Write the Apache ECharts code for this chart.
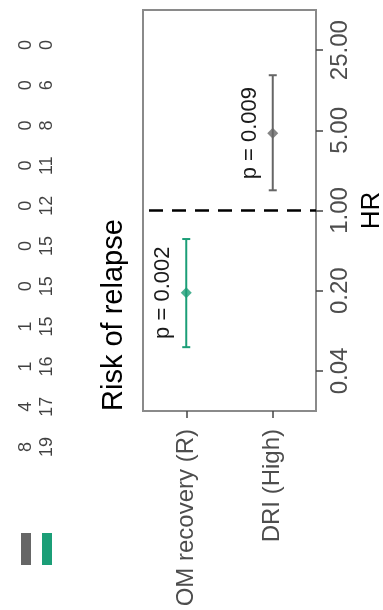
<!DOCTYPE html>
<html>
<head>
<meta charset="utf-8">
<script src="https://cdn.jsdelivr.net/npm/echarts@6/dist/echarts.min.js"></script>
<style>
  html, body { margin: 0; padding: 0; background: #ffffff; }
  #chart { width: 383px; height: 610px; }
</style>
</head>
<body>
<div id="chart"></div>
<script>
// Hazard ratios (Cox model) for relapse, one row per covariate
const categories = ['OM recovery (R)', 'DRI (High)'];
const hrPoint = [0.192, 4.72];
const hrLower = [0.0644, 1.50];
const hrUpper = [0.564, 15.1];
const pLabels = ['p = 0.002', 'p = 0.009'];
const hrTicks = [0.04, 0.20, 1.00, 5.00, 25.00];

// Numbers at risk under the survival curves, per stratum and time column
const riskStrata = ['grey', 'teal'];
const riskGrey = [8, 4, 1, 1, 0, 0, 0, 0, 0, 0, 0];
const riskTeal = [19, 17, 16, 15, 15, 15, 12, 11, 8, 6, 0];
const riskColumns = riskTeal.map((_, i) => 't' + i);

const FONT = "'Liberation Sans', Arial, Helvetica, sans-serif";
const TEAL = '#1B9E77';
const GREY = '#666666';
const pointColors = [TEAL, GREY];
const strataColors = [GREY, TEAL];
const BORDER = '#8a8a8a';

const chart = echarts.init(document.getElementById('chart'), null, { renderer: 'canvas' });

const errorData = categories.map((c, i) => [i, hrPoint[i], hrLower[i], hrUpper[i]]);

function renderErrorBar(params, api) {
  const i = params.dataIndex;
  const x = api.value(0);
  const mid = api.coord([x, api.value(1)]);
  const lo = api.coord([x, api.value(2)]);
  const hi = api.coord([x, api.value(3)]);
  const color = pointColors[i];
  const cap = 4;
  const st = { stroke: color, lineWidth: 2 };
  return {
    type: 'group',
    children: [
      { type: 'line', shape: { x1: mid[0], y1: lo[1], x2: mid[0], y2: hi[1] }, style: st },
      { type: 'line', shape: { x1: mid[0] - cap, y1: lo[1], x2: mid[0] + cap, y2: lo[1] }, style: st },
      { type: 'line', shape: { x1: mid[0] - cap, y1: hi[1], x2: mid[0] + cap, y2: hi[1] }, style: st },
      {
        type: 'text', x: mid[0] - 23, y: mid[1], rotation: Math.PI / 2,
        style: { text: pLabels[i], fontSize: 22, fontFamily: FONT, fill: '#1a1a1a', align: 'center', verticalAlign: 'middle' }
      }
    ]
  };
}

const riskSeries = [riskGrey, riskTeal].map((vals, s) => ({
  type: 'scatter',
  xAxisIndex: 1,
  yAxisIndex: 1,
  symbolSize: 0,
  silent: true,
  data: vals.map((v, i) => [s, i, v]),
  label: {
    show: true,
    position: 'inside',
    rotate: 90,
    formatter: p => String(p.value[2]),
    fontSize: 18,
    fontFamily: FONT,
    color: '#111'
  }
}));

const option = {
  animation: false,
  backgroundColor: '#ffffff',
  textStyle: { fontFamily: FONT },
  grid: [
    { left: 143, top: 10, width: 173, height: 401, show: true, borderColor: BORDER, borderWidth: 2, backgroundColor: 'transparent', containLabel: false, outerBoundsMode: 'none' },
    { left: 26, top: 45, width: 21, height: 402, show: false, containLabel: false, outerBoundsMode: 'none' }
  ],
  xAxis: [
    {
      type: 'category',
      gridIndex: 0,
      data: categories,
      position: 'bottom',
      boundaryGap: true,
      axisLine: { show: true, lineStyle: { color: BORDER, width: 2 } },
      axisTick: { show: true, alignWithLabel: true, length: 7, lineStyle: { color: '#444', width: 1.5 } },
      axisLabel: { rotate: 90, interval: 0, fontSize: 24, color: '#4d4d4d', margin: 18, fontFamily: FONT },
      splitLine: { show: false }
    },
    {
      type: 'category',
      gridIndex: 1,
      data: riskStrata,
      boundaryGap: false,
      position: 'bottom',
      axisLine: { show: false },
      axisTick: { show: false },
      splitLine: { show: false },
      axisLabel: {
        show: true,
        interval: 0,
        rotate: 90,
        margin: 86,
        formatter: (v, i) => (i === 0 ? '{g|}' : '{t|}'),
        rich: {
          g: { backgroundColor: strataColors[0], width: 32, height: 10 },
          t: { backgroundColor: strataColors[1], width: 32, height: 10 }
        }
      }
    }
  ],
  yAxis: [
    {
      type: 'log',
      gridIndex: 0,
      logBase: 5,
      min: Math.pow(5, -2.5),
      max: Math.pow(5, 2.5),
      position: 'right',
      axisLine: { show: true, lineStyle: { color: BORDER, width: 2 } },
      axisTick: { show: true, length: 7, lineStyle: { color: '#444', width: 1.5 }, customValues: hrTicks },
      axisLabel: {
        rotate: 90, fontSize: 24, color: '#4d4d4d', margin: 12, fontFamily: FONT,
        customValues: hrTicks,
        formatter: v => Number(v).toFixed(2)
      },
      splitLine: { show: false },
      name: 'HR',
      nameLocation: 'middle',
      nameRotate: 90,
      nameGap: 43,
      nameTextStyle: { fontSize: 26, color: '#000', fontFamily: FONT }
    },
    {
      type: 'category',
      gridIndex: 1,
      data: riskColumns,
      boundaryGap: false,
      show: false
    }
  ],
  series: [
    {
      type: 'custom',
      xAxisIndex: 0,
      yAxisIndex: 0,
      silent: true,
      renderItem: renderErrorBar,
      data: errorData,
      z: 3
    },
    {
      type: 'scatter',
      xAxisIndex: 0,
      yAxisIndex: 0,
      symbol: 'diamond',
      symbolSize: 11,
      silent: true,
      data: categories.map((c, i) => ({ value: [i, hrPoint[i]], itemStyle: { color: pointColors[i] } })),
      z: 4,
      markLine: {
        silent: true,
        symbol: 'none',
        label: { show: false },
        lineStyle: { color: '#000', width: 2.5, type: [14, 9], dashOffset: 17 },
        data: [{ yAxis: 1 }]
      }
    },
    ...riskSeries
  ],
  graphic: [
    {
      type: 'text',
      x: 114,
      y: 411,
      rotation: Math.PI / 2,
      style: { text: 'Risk of relapse', fontSize: 29, fontFamily: FONT, fill: '#000', align: 'left', verticalAlign: 'middle' }
    }
  ]
};

chart.setOption(option);
</script>
</body>
</html>
